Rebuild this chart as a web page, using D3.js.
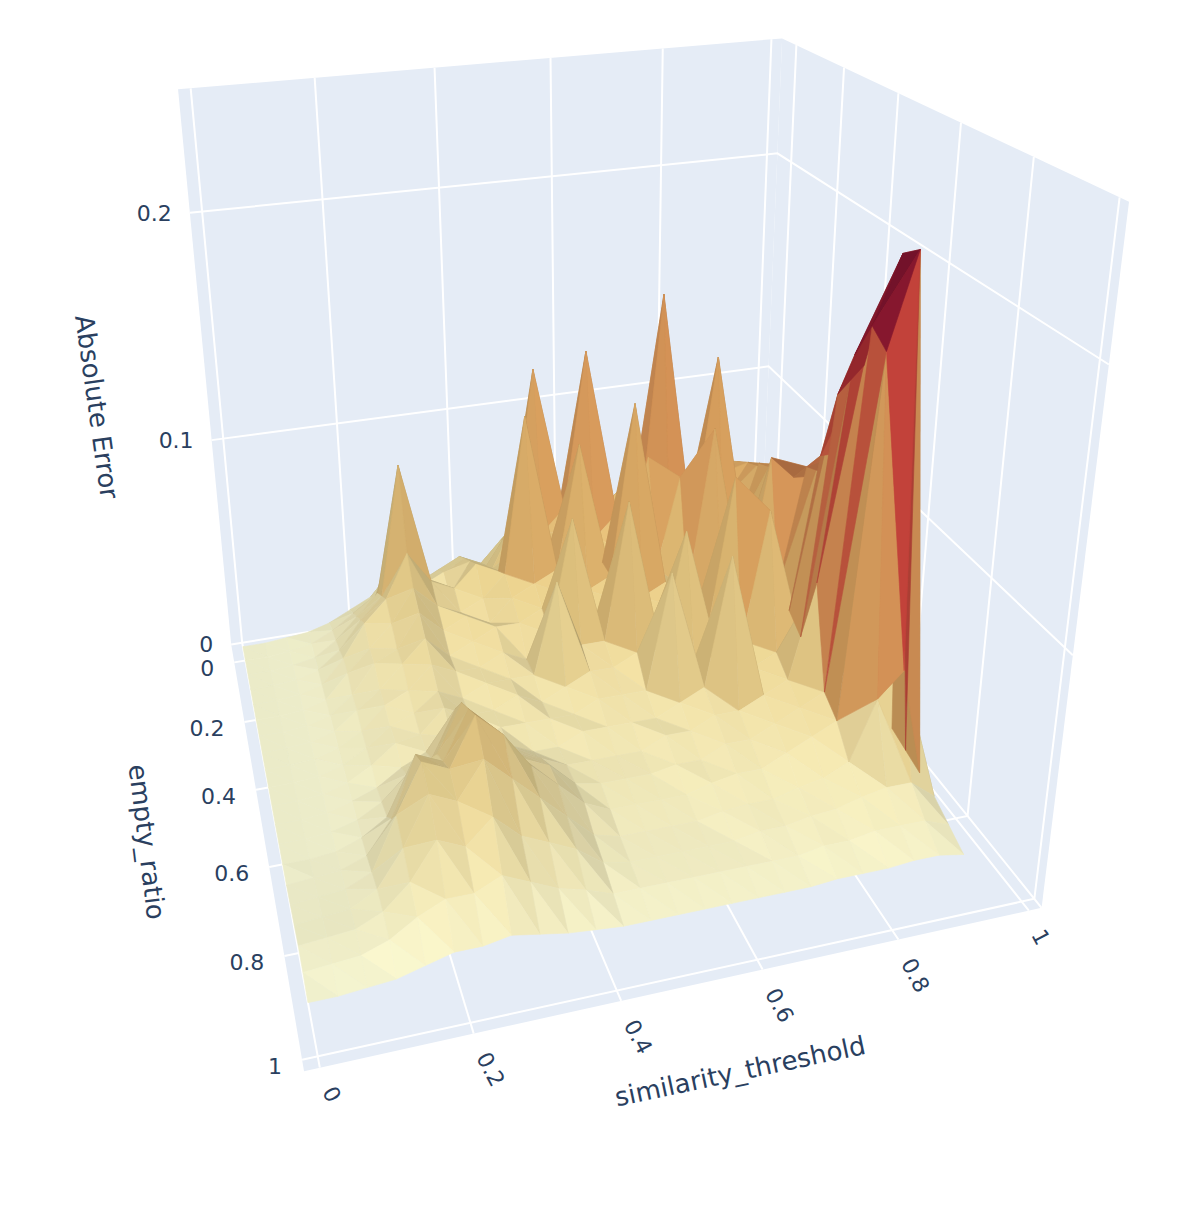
<!DOCTYPE html>
<html><head><meta charset="utf-8">
<script src="https://cdn.jsdelivr.net/npm/d3@7"></script>
<style>body{margin:0;background:#fff;font-family:"DejaVu Sans",Verdana,sans-serif}</style>
</head><body><svg id="c" width="1196" height="1214"></svg>
<script>
// similarity_threshold grid (columns)
const xValues = [0,0.04,0.08,0.12,0.16,0.2,0.24,0.28,0.32,0.36,0.4,0.44,0.48,0.52,0.56,0.6,0.64,0.68,0.72,0.76,0.8,0.84,0.88,0.92,0.96];
// empty_ratio grid (rows)
const yValues = [-0.05,0,0.05,0.1,0.15,0.2,0.25,0.3,0.35,0.4,0.45,0.5,0.55,0.6,0.65,0.7,0.75,0.8,0.85,0.9];
// Absolute Error (thousandths), one row per empty_ratio value
const zRows = [
[0,0,1,2,5,10,15,20,15,20,25,20,30,35,25,40,30,35,30,40,30,35,40,30,5],
[0,0,1,3,8,15,20,35,25,30,35,30,40,50,45,55,40,50,45,55,50,60,60,55,8],
[0,0,1,3,10,20,30,60,30,35,40,35,50,60,55,70,50,60,55,70,60,70,70,65,10],
[0,0,1,4,12,25,35,95,40,30,45,40,60,130,60,70,60,70,60,75,65,70,75,70,12],
[0,0,1,4,15,30,40,60,45,40,50,45,55,60,70,140,60,65,70,60,70,75,80,75,12],
[0,0,1,4,15,25,35,50,40,35,40,50,120,60,65,60,70,60,165,60,65,70,85,80,14],
[0,0,1,4,12,25,30,45,35,40,35,45,50,55,110,55,60,100,60,65,140,60,90,85,14],
[0,0,1,4,12,20,30,40,30,35,40,40,45,50,50,55,130,55,95,60,55,60,95,90,15],
[0,0,1,4,10,20,25,35,30,30,35,30,40,90,45,50,50,55,50,120,50,70,100,95,15],
[0,0,1,4,10,18,22,30,25,30,30,30,70,40,40,100,45,50,50,55,50,110,100,100,16],
[0,0,1,4,10,18,20,30,25,25,30,25,30,35,35,40,40,90,45,110,55,60,110,105,16],
[0,0,1,4,8,15,20,25,20,25,25,25,25,30,30,30,80,40,40,45,100,55,120,120,16],
[0,0,1,4,10,20,25,45,30,25,20,20,25,25,25,25,30,35,90,40,45,50,150,160,18],
[0,0,1,5,12,30,35,55,40,30,25,20,20,20,20,25,25,30,30,35,40,80,170,190,20],
[0,1,2,6,20,45,40,60,45,35,30,20,18,18,18,20,20,25,25,30,35,40,185,210,18],
[1,2,3,8,30,50,45,65,55,40,30,20,15,15,15,15,18,20,20,25,30,35,180,215,16],
[2,3,4,10,25,45,40,55,45,35,25,15,12,12,12,12,14,15,15,18,20,25,50,60,14],
[3,4,5,10,20,35,30,40,30,25,20,12,10,10,10,10,10,12,12,14,15,18,20,20,12],
[2,3,4,8,15,20,20,25,20,15,12,8,8,8,8,8,8,8,8,10,10,12,12,12,8],
[0,0,1,2,5,8,8,10,8,6,5,4,4,4,4,4,4,4,4,5,5,5,6,6,4]
];
const xTicks = [0,0.2,0.4,0.6,0.8,1];
const yTicks = [0,0.2,0.4,0.6,0.8,1];
const zTicks = [0,0.1,0.2];
const xTitle = "similarity_threshold", yTitle = "empty_ratio", zTitle = "Absolute Error";

const XR=[-0.02,1.02], YR=[-0.065,1.02], ZR=[0,0.25];
const zs = d3.scaleLinear().domain([0,0.25]).range([0,1]);
const corr = [
 [0,0,0,246,667],[0,1,0,321,1053],[0.2,1,0,475,1022],[0.6,1,0,760,962],[0.8,1,0,890,936],[1,1,0,1020,908],
 [0,0.4,0,267,787],[0,0.8,0,301,947],
 [-0.02,-0.065,0,231,647],[-0.02,-0.065,0.1,212,441],[-0.02,-0.065,0.2,186,210],[-0.02,-0.065,0.25,175,88],
 [1.02,-0.065,0.25,784,56],[1.02,-0.065,0.2,779,156],[1.02,-0.065,0.1,771,343],
 [1.02,1.02,0.25,1131,192],[1.02,1.02,0,1033,910]
];
function fit(){
  const A=[],b=[];
  corr.forEach(([X,Y,z,u,v])=>{const Z=zs(z);
    A.push([X,Y,Z,1,0,0,0,0,-u*X,-u*Y,-u*Z]);b.push(u);
    A.push([0,0,0,0,X,Y,Z,1,-v*X,-v*Y,-v*Z]);b.push(v);});
  const n=11,M=[];
  for(let i=0;i<n;i++){M.push([]);for(let j=0;j<=n;j++){let s=0;for(let k=0;k<A.length;k++)s+=A[k][i]*(j<n?A[k][j]:b[k]);M[i].push(s);}}
  for(let i=0;i<n;i++){let p=i;for(let r=i+1;r<n;r++)if(Math.abs(M[r][i])>Math.abs(M[p][i]))p=r;[M[i],M[p]]=[M[p],M[i]];
    for(let r=0;r<n;r++)if(r!==i){const f=M[r][i]/M[i][i];for(let c=i;c<=n;c++)M[r][c]-=f*M[i][c];}}
  return M.map((r,i)=>r[n]/r[i]);
}
const P=fit();
function proj(x,y,z){const Z=zs(z);const w=P[8]*x+P[9]*y+P[10]*Z+1;
  return [(P[0]*x+P[1]*y+P[2]*Z+P[3])/w,(P[4]*x+P[5]*y+P[6]*Z+P[7])/w,w];}

const svg=d3.select("#c");
const line=(pts)=>"M"+pts.map(p=>{const q=proj(...p);return q[0]+","+q[1];}).join("L");
const poly=(pts)=>line(pts)+"Z";
const wall="#e5ecf6";
svg.append("path").attr("d",poly([[XR[0],YR[0],0],[XR[1],YR[0],0],[XR[1],YR[0],ZR[1]],[XR[0],YR[0],ZR[1]]])).attr("fill",wall);
svg.append("path").attr("d",poly([[XR[1],YR[0],0],[XR[1],YR[1],0],[XR[1],YR[1],ZR[1]],[XR[1],YR[0],ZR[1]]])).attr("fill",wall);
svg.append("path").attr("d",poly([[XR[0],YR[0],0],[XR[1],YR[0],0],[XR[1],YR[1],0],[XR[0],YR[1],0]])).attr("fill",wall);
const g=svg.append("g").attr("stroke","#fff").attr("fill","none").attr("stroke-width",2);
xTicks.forEach(x=>{g.append("path").attr("d",line([[x,YR[1],0],[x,YR[0],0],[x,YR[0],ZR[1]]]));});
yTicks.forEach(y=>{g.append("path").attr("d",line([[XR[0],y,0],[XR[1],y,0],[XR[1],y,ZR[1]]]));});
zTicks.forEach(z=>{g.append("path").attr("d",line([[XR[0],YR[0],z],[XR[1],YR[0],z],[XR[1],YR[1],z]]));});

// surface
const color=d3.scaleSequential(d3.interpolateYlOrRd).domain([0,0.215]);
const quads=[];
const L=[-0.3,0.6,0.75]; const ln=Math.hypot(...L);
function shade(t){
  const s=p=>[p[0],p[1],p[2]*4];
  const A=s(t[0]),B=s(t[1]),C=s(t[2]);
  const u=[B[0]-A[0],B[1]-A[1],B[2]-A[2]],v=[C[0]-A[0],C[1]-A[1],C[2]-A[2]];
  let n=[u[1]*v[2]-u[2]*v[1],u[2]*v[0]-u[0]*v[2],u[0]*v[1]-u[1]*v[0]];
  const nl=Math.hypot(...n)||1;n=n.map(q=>q/nl);if(n[2]<0)n=n.map(q=>-q);
  const dot=Math.abs((n[0]*L[0]+n[1]*L[1]+n[2]*L[2])/ln);
  const zm=d3.mean(t,p=>p[2]);
  const h=d3.hsl(d3.rgb(color(zm)));h.s*=0.72;
  const c2=d3.rgb(h);const f=0.74+0.28*dot;
  return `rgb(${Math.min(255,c2.r*f)|0},${Math.min(255,c2.g*f)|0},${Math.min(255,c2.b*f)|0})`;
}
for(let j=0;j<yValues.length-1;j++)for(let i=0;i<xValues.length-1;i++){
  const c=(ii,jj)=>[xValues[ii],yValues[jj],zRows[jj][ii]/1000];
  const a=c(i,j),b=c(i+1,j),d=c(i+1,j+1),e=c(i,j+1);
  const q={tris:[[a,b,d],[a,d,e]]};
  q.w=d3.mean([a,b,d,e],p=>proj(...p)[2]);
  q.tris.forEach(t=>{t.pr=t.map(p=>proj(...p));t.fill=shade(t);t.w=d3.mean(t.pr,p=>p[2]);});
  q.tris.sort((x,y)=>y.w-x.w);
  quads.push(q);
}
quads.sort((a,b)=>b.w-a.w);
const tris=quads.flatMap(q=>q.tris);
svg.append("g").selectAll("path").data(tris).join("path")
 .attr("d",t=>"M"+t.pr.map(p=>p[0]+","+p[1]).join("L")+"Z")
 .attr("fill",t=>t.fill).attr("stroke",t=>t.fill).attr("stroke-width",0.6).attr("stroke-linejoin","round");

// labels
const tc="#2a3f5f";
const lab=svg.append("g").attr("fill",tc).attr("font-size",22);
zTicks.forEach(z=>{const p=proj(XR[0],YR[0],z);lab.append("text").attr("x",p[0]-18).attr("y",p[1]+8).attr("text-anchor","end").text(z);});
yTicks.forEach(y=>{const p=proj(XR[0],y,0);lab.append("text").attr("x",p[0]-20).attr("y",p[1]+14).attr("text-anchor","end").text(y);});
xTicks.forEach(x=>{const p=proj(x,YR[1],0);lab.append("text").attr("transform",`translate(${p[0]+2},${p[1]+24}) rotate(62)`).attr("text-anchor","start").text(x);});
svg.append("text").attr("fill",tc).attr("font-size",26).attr("transform","translate(88,408) rotate(82)").attr("text-anchor","middle").text(zTitle);
svg.append("text").attr("fill",tc).attr("font-size",26).attr("transform","translate(138,843) rotate(83)").attr("text-anchor","middle").text(yTitle);
svg.append("text").attr("fill",tc).attr("font-size",26).attr("transform","translate(742,1080) rotate(-12)").attr("text-anchor","middle").text(xTitle);
</script></body></html>
